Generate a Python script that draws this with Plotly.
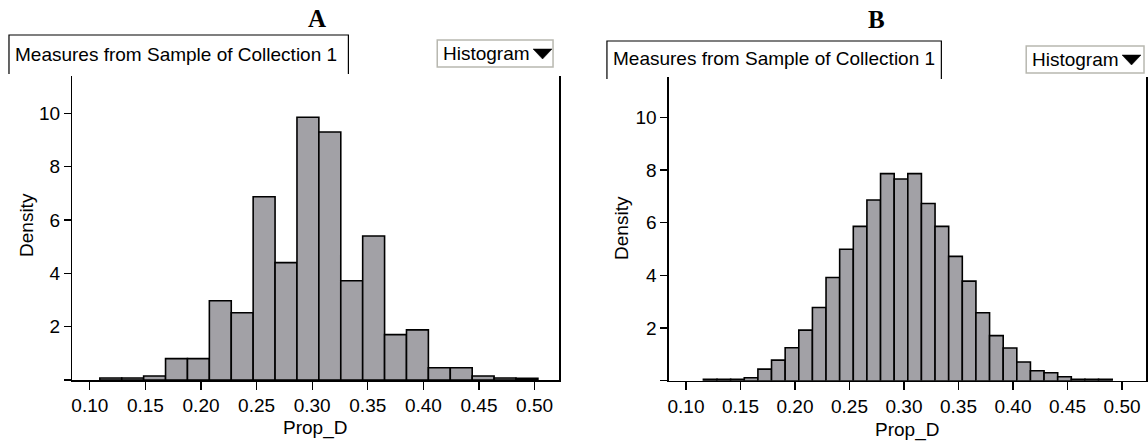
import plotly.graph_objects as go

W, H = 1148, 444

# ---------------- data ----------------
# Panel A: bin left edges, common bin width, density heights
a_bin_left = [0.1090, 0.1287, 0.1484, 0.1681, 0.1878, 0.2075, 0.2272, 0.2469, 0.2666, 0.2863,
              0.3060, 0.3257, 0.3454, 0.3651, 0.3848, 0.4045, 0.4242, 0.4439, 0.4636, 0.4833]
a_bin_width = 0.0197
a_density = [0.075, 0.075, 0.15, 0.80, 0.80, 2.97, 2.52, 6.87, 4.40, 9.85,
             9.30, 3.72, 5.40, 1.70, 1.88, 0.46, 0.46, 0.15, 0.075, 0.06]

# Panel B
b_bin_left = [0.1160, 0.1285, 0.1410, 0.1535, 0.1660, 0.1785, 0.1910, 0.2035, 0.2160, 0.2285,
              0.2410, 0.2535, 0.2660, 0.2785, 0.2910, 0.3035, 0.3160, 0.3285, 0.3410, 0.3535,
              0.3660, 0.3785, 0.3910, 0.4035, 0.4160, 0.4285, 0.4410, 0.4535, 0.4660, 0.4785]
b_bin_width = 0.0125
b_density = [0.05, 0.05, 0.05, 0.11, 0.44, 0.78, 1.25, 1.92, 2.78, 3.92,
             4.99, 5.86, 6.86, 7.86, 7.66, 7.86, 6.73, 5.86, 4.72, 3.78,
             2.58, 1.71, 1.24, 0.71, 0.38, 0.30, 0.15, 0.05, 0.05, 0.05]

x_tick_vals = [0.10, 0.15, 0.20, 0.25, 0.30, 0.35, 0.40, 0.45, 0.50]
x_tick_text = ["0.10", "0.15", "0.20", "0.25", "0.30", "0.35", "0.40", "0.45", "0.50"]
y_tick_vals = [0, 2, 4, 6, 8, 10]
y_tick_text = ["", "2", "4", "6", "8", "10"]

panel_titles = ["A", "B"]
header_text = "Measures from Sample of Collection 1"
menu_text = "Histogram"
x_title = "Prop_D"
y_title = "Density"

# ---------------- styling / layout ----------------
FONT = "Arial, Liberation Sans, Helvetica, sans-serif"
SERIF = "Times New Roman, Liberation Serif, serif"
BAR_FILL = "#a2a1a6"


def px(x):
    return x / W


def py(y):
    return 1 - y / H


fig = go.Figure()
fig.add_trace(go.Bar(x=a_bin_left, y=a_density, width=a_bin_width, offset=0,
                     marker=dict(color=BAR_FILL, line=dict(color="black", width=1.6)),
                     xaxis="x", yaxis="y", showlegend=False, hoverinfo="skip"))
fig.add_trace(go.Bar(x=b_bin_left, y=b_density, width=b_bin_width, offset=0,
                     marker=dict(color=BAR_FILL, line=dict(color="black", width=1.6)),
                     xaxis="x2", yaxis="y2", showlegend=False, hoverinfo="skip"))

xaxis_common = dict(range=[0.0843, 0.522], tickvals=x_tick_vals, ticktext=x_tick_text,
                    ticks="outside", ticklen=8, tickwidth=1.3, tickcolor="black",
                    showline=True, linecolor="black", linewidth=1.5, showgrid=False,
                    zeroline=False, tickfont=dict(family=FONT, size=19, color="black"),
                    fixedrange=True)
yaxis_common = dict(tickvals=y_tick_vals, ticktext=y_tick_text,
                    ticks="outside", ticklen=7, tickwidth=1.3, tickcolor="black",
                    showline=True, mirror=True, linecolor="black", linewidth=1.5,
                    showgrid=False, zeroline=False,
                    tickfont=dict(family=FONT, size=19, color="black"), fixedrange=True)

# plot areas in pixels
A_left, A_right, A_top, A_bottom = 71.5, 559, 76, 380
B_left, B_right, B_top, B_bottom = 669, 1147, 77, 380.7

fig.update_layout(
    width=W, height=H,
    margin=dict(l=0, r=0, t=0, b=0),
    paper_bgcolor="white", plot_bgcolor="white",
    bargap=0,
    xaxis=dict(domain=[px(A_left), px(A_right)], anchor="y", **xaxis_common),
    yaxis=dict(domain=[py(A_bottom), py(A_top)], anchor="x",
               range=[0, (A_bottom - A_top) / 26.67], **yaxis_common),
    xaxis2=dict(domain=[px(B_left), px(B_right)], anchor="y2", **xaxis_common),
    yaxis2=dict(domain=[py(B_bottom), py(B_top)], anchor="x2",
                range=[0, (B_bottom - B_top) / 26.34], **yaxis_common),
)

annotations = []
shapes = []

panels = [
    dict(title_x=317, title_y=18, box=(8, 35, 348, 74), head_y=55,
         menu=(437, 40, 553, 67), menu_text_x=441, menu_y=54,
         ylab_x=25, ylab_y=225, xlab_x=315, xlab_y=428),
    dict(title_x=877, title_y=20, box=(607, 41, 942, 79), head_y=59,
         menu=(1027, 46, 1145, 73), menu_text_x=1031, menu_y=60,
         ylab_x=621, ylab_y=228, xlab_x=908, xlab_y=430),
]

for title, p in zip(panel_titles, panels):
    annotations.append(dict(text="<b>%s</b>" % title, x=px(p["title_x"]), y=py(p["title_y"]),
                            xref="paper", yref="paper", showarrow=False,
                            xanchor="center", yanchor="middle",
                            font=dict(family=SERIF, size=25, color="black")))
    l, t, r, b = p["box"]
    shapes.append(dict(type="path", xref="paper", yref="paper",
                       path="M %f %f L %f %f L %f %f L %f %f" % (px(l), py(b), px(l), py(t),
                                                               px(r), py(t), px(r), py(b)),
                       line=dict(color="black", width=1.2)))
    annotations.append(dict(text=header_text, x=px(l + 4), y=py(p["head_y"]),
                            xref="paper", yref="paper", showarrow=False,
                            xanchor="left", yanchor="middle",
                            font=dict(family=FONT, size=19, color="black")))
    ml, mt, mr, mb = p["menu"]
    shapes.append(dict(type="rect", xref="paper", yref="paper",
                       x0=px(ml), y0=py(mb), x1=px(mr), y1=py(mt),
                       line=dict(color="#b8b8b0", width=1.5), fillcolor="white"))
    annotations.append(dict(text=menu_text, x=px(p["menu_text_x"]), y=py(p["menu_y"]),
                            xref="paper", yref="paper", showarrow=False,
                            xanchor="left", yanchor="middle",
                            font=dict(family=FONT, size=19, color="black")))
    tx = p["menu_text_x"] + 92
    ty = p["menu_y"] - 5
    shapes.append(dict(type="path", xref="paper", yref="paper",
                       path="M %f %f L %f %f L %f %f Z" % (px(tx), py(ty), px(tx + 19), py(ty),
                                                           px(tx + 9.5), py(ty + 10)),
                       line=dict(color="black", width=0.5), fillcolor="black"))
    annotations.append(dict(text=y_title, x=px(p["ylab_x"]), y=py(p["ylab_y"]),
                            xref="paper", yref="paper", showarrow=False, textangle=-90,
                            xanchor="center", yanchor="middle",
                            font=dict(family=FONT, size=19, color="black")))
    annotations.append(dict(text=x_title, x=px(p["xlab_x"]), y=py(p["xlab_y"]),
                            xref="paper", yref="paper", showarrow=False,
                            xanchor="center", yanchor="middle",
                            font=dict(family=FONT, size=19, color="black")))

fig.update_layout(annotations=annotations, shapes=shapes)

fig.write_html(
    "out.html",
    config={"displayModeBar": False, "staticPlot": True},
    post_script="document.body.style.margin='0';document.body.style.padding='0';"
                "document.documentElement.style.overflow='hidden';",
)
